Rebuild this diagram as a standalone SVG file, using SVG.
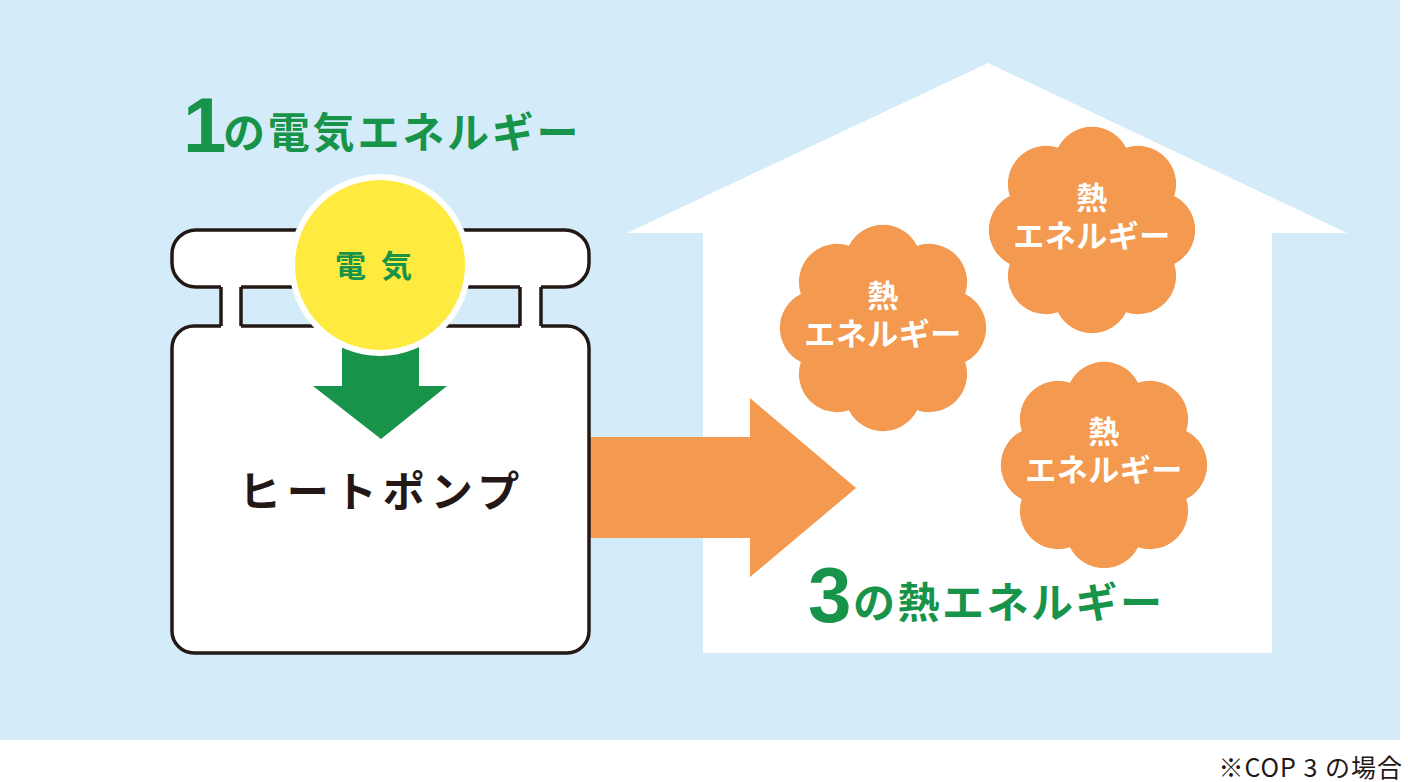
<svg xmlns="http://www.w3.org/2000/svg" width="1408" height="782" viewBox="0 0 1408 782">
<defs>
<style>
.jp{font-family:"Noto Sans CJK JP","Noto Sans",sans-serif;font-weight:700}
.green{fill:#17944A}
.cloudtxt{fill:#FFFFFF;font-size:31px;text-anchor:middle;letter-spacing:0.5px}
.outline{fill:#FFFFFF;stroke:#231815;stroke-width:3.5}
</style>
<path id="cloud" fill="#F39A50" d="M82.23 -34.06 A38.2 38.2 0 0 1 82.23 34.06 A38.2 38.2 0 0 1 34.06 82.23 A38.2 38.2 0 0 1 -34.06 82.23 A38.2 38.2 0 0 1 -82.23 34.06 A38.2 38.2 0 0 1 -82.23 -34.06 A38.2 38.2 0 0 1 -34.06 -82.23 A38.2 38.2 0 0 1 34.06 -82.23 A38.2 38.2 0 0 1 82.23 -34.06 Z"/>
</defs>
<rect x="0" y="0" width="1408" height="782" fill="#FFFFFF"/>
<rect x="0" y="0" width="1400" height="740" fill="#D4ECF9"/>

<g id="house">
<polygon fill="#FFFFFF" points="988,63 1347,233 1272,233 1272,653 703,653 703,233 627,233"/>
</g>

<g id="connectors">
<polygon fill="#F39A50" points="589,437 750,437 750,398 856,488 750,577 750,538 589,538"/>
</g>

<g id="heatpump">
<rect class="outline" x="172" y="230" width="417" height="57" rx="24" ry="24"/>
<rect class="outline" x="172" y="326" width="417" height="327" rx="22" ry="22"/>
<rect x="221" y="285" width="20" height="43" fill="#FFFFFF"/>
<rect x="520" y="285" width="21" height="43" fill="#FFFFFF"/>
<path d="M221 287 V326 M241 287 V326 M520 287 V326 M541 287 V326" stroke="#231815" stroke-width="3.5" fill="none"/>
<text class="jp" x="382" y="507" font-size="42" fill="#231815" text-anchor="middle" letter-spacing="6">ヒートポンプ</text>
</g>

<g id="arrow-down">
<polygon class="green" points="342,340 419,340 419,386 447,386 381,439 313,386 342,386"/>
</g>

<g id="electricity">
<circle cx="380" cy="265" r="91" fill="#FFFFFF"/>
<circle cx="380" cy="265" r="85" fill="#FFEB3F"/>
<text class="jp green" x="381" y="277" font-size="31" text-anchor="middle" letter-spacing="15">電気</text>
</g>

<g id="title-1">
<text class="green" x="183" y="152" font-family="Liberation Sans, Arial, sans-serif" font-weight="700" font-size="78">1</text>
<text class="jp green" x="223" y="148" font-size="42" letter-spacing="2.8">の電気エネルギー</text>
</g>

<g id="cloud-1">
<use href="#cloud" transform="translate(883,328)"/>
<text class="jp cloudtxt"><tspan x="883" y="307">熱</tspan><tspan x="883" y="345">エネルギー</tspan></text>
</g>
<g id="cloud-2">
<use href="#cloud" transform="translate(1092,230)"/>
<text class="jp cloudtxt"><tspan x="1092" y="209">熱</tspan><tspan x="1092" y="247">エネルギー</tspan></text>
</g>
<g id="cloud-3">
<use href="#cloud" transform="translate(1104,465)"/>
<text class="jp cloudtxt"><tspan x="1104" y="443">熱</tspan><tspan x="1104" y="481">エネルギー</tspan></text>
</g>

<g id="title-3">
<text class="green" x="808" y="622" font-family="Liberation Sans, Arial, sans-serif" font-weight="700" font-size="78">3</text>
<text class="jp green" x="853" y="618" font-size="42" letter-spacing="2.5">の熱エネルギー</text>
</g>

<g id="note">
<text x="1403" y="777" font-family="Noto Sans CJK JP, sans-serif" font-size="25" fill="#231815" text-anchor="end" letter-spacing="1">※COP 3 の場合</text>
</g>
</svg>
